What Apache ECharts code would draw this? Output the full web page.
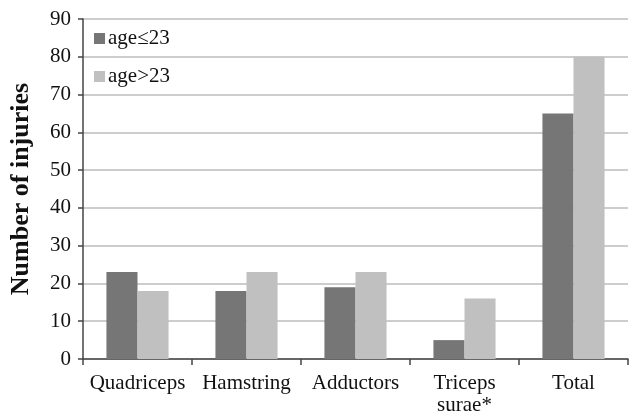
<!DOCTYPE html>
<html><head><meta charset="utf-8">
<script src="https://cdn.jsdelivr.net/npm/echarts@6/dist/echarts.min.js"></script>
<style>html,body{margin:0;padding:0;background:#fff}#c{width:629px;height:417px}</style>
</head><body><div id="c"></div>
<script>
var categories = ['Quadriceps', 'Hamstring', 'Adductors', 'Triceps\nsurae*', 'Total'];
var young = [23, 18, 19, 5, 65];
var old = [18, 23, 23, 16, 80];
var yTicks = [0, 10, 20, 30, 40, 50, 60, 70, 80, 90];
var font = '"Liberation Serif", "DejaVu Serif", serif';
var chart = echarts.init(document.getElementById('c'));
chart.setOption({
  animation: false,
  grid: {left: 83, right: 1, top: 19, bottom: 58, containLabel: false, outerBoundsMode: 'none'},
  legend: {
    orient: 'vertical', left: 89, top: 23, itemWidth: 11, itemHeight: 11, itemGap: 17,
    icon: 'rect', itemStyle: {borderWidth: 0},
    textStyle: {fontFamily: font, fontSize: 21, color: '#111', padding: [0,0,0,-2]},
    data: ['age≤23', 'age>23']
  },
  xAxis: {
    type: 'category', data: categories,
    axisLine: {lineStyle: {color: '#444', width: 1.5}},
    axisTick: {show: true, length: 6, lineStyle: {color: '#444', width: 1.5}},
    axisLabel: {fontFamily: font, fontSize: 21, color: '#111', margin: 13, lineHeight: 22, interval: 0, hideOverlap: false}
  },
  yAxis: {
    type: 'value', min: yTicks[0], max: yTicks[yTicks.length-1], interval: 10,
    name: 'Number of injuries', nameLocation: 'middle', nameGap: 49,
    nameTextStyle: {fontFamily: font, fontSize: 26, fontWeight: 'bold', color: '#111'},
    axisLine: {show: true, lineStyle: {color: '#444', width: 1.5}},
    axisTick: {show: true, length: 5, lineStyle: {color: '#444', width: 1.5}},
    axisLabel: {fontFamily: font, fontSize: 21, color: '#111', margin: 12},
    splitLine: {lineStyle: {color: '#bcbcbc', width: 1.5}}
  },
  series: [
    {name: 'age≤23', type: 'bar', data: young, itemStyle: {color: '#767676'}, barGap: '0%', barCategoryGap: '43%'},
    {name: 'age>23', type: 'bar', data: old, itemStyle: {color: '#c0c0c0'}, barGap: '0%', barCategoryGap: '43%'}
  ]
});
</script></body></html>
